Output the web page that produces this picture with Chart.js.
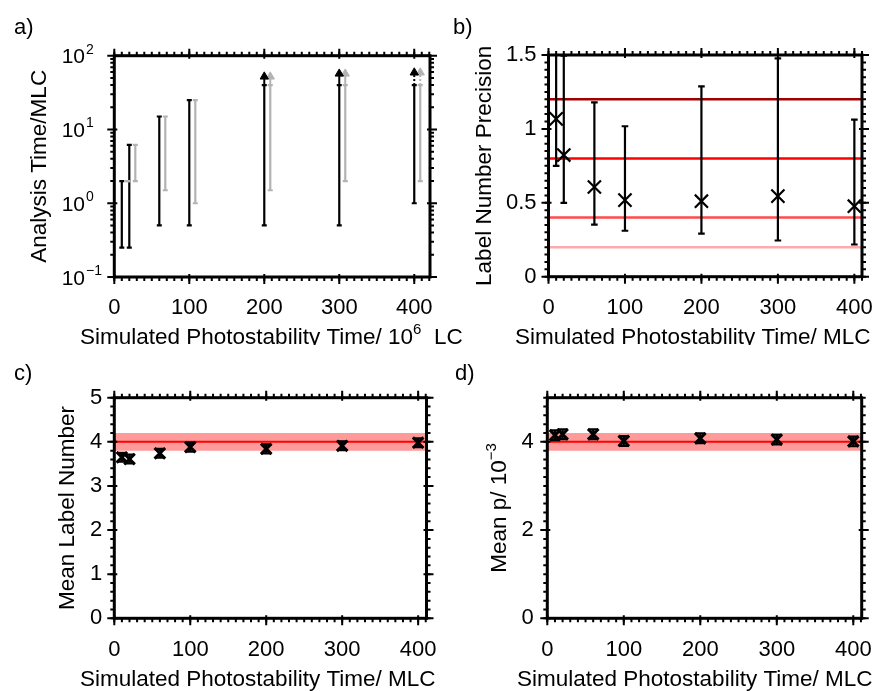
<!DOCTYPE html>
<html>
<head>
<meta charset="utf-8">
<script src="https://cdn.jsdelivr.net/npm/chart.js@4.4.1/dist/chart.umd.min.js"></script>
<style>
  html, body { margin: 0; padding: 0; background: #fff; }
  #fig { position: relative; width: 874px; height: 691px; }
  canvas { position: absolute; }
</style>
</head>
<body>
<div id="fig">
  <canvas id="chartB" width="437" height="345" style="left:437px;top:0"></canvas>
  <canvas id="chartA" width="474" height="345" style="left:0;top:0"></canvas>
  <canvas id="chartC" width="437" height="346" style="left:0;top:345px"></canvas>
  <canvas id="chartD" width="437" height="346" style="left:437px;top:345px"></canvas>
</div>
<script>
// simulated photostability times (MLC)
const simTimes = [10, 20, 60, 100, 200, 300, 400];

// a) analysis time ranges, black and grey series
const analysisBlackLo = [0.25, 0.25, 0.5, 0.5, 0.5, 0.5, 1];
const analysisBlackHi = [2, 6.2, 15, 25, 40, 40, 40];
const analysisGreyX = [18, 28, 68, 108, 208, 308, 408];
const analysisGreyLo = [2, 2, 1.5, 1, 1.5, 2, 2];
const analysisGreyHi = [2, 6.2, 15, 25, 40, 40, 40];
const arrowBlackX = [200, 300, 400];
const arrowGreyX = [208, 308, 408];
const arrowY = [52, 57, 59];
const arrowDashed = [false, false, true];

// b) label number precision
const precisionMean = [1.068, 0.823, 0.607, 0.518, 0.511, 0.545, 0.477];
const precisionLo = [0.75, 0.5, 0.352, 0.311, 0.291, 0.245, 0.218];
const precisionHi = [1.6, 1.496, 1.18, 1.018, 1.288, 1.477, 1.063];
const precisionLevels = [1.2, 0.8, 0.4, 0.2];
const precisionLevelColors = ['#a00000', '#ff0000', '#ff4a4a', '#ffaaaa'];

// c) mean label number
const labelMean = [3.65, 3.61, 3.74, 3.88, 3.84, 3.91, 3.98];
const labelErr = [0.1, 0.1, 0.1, 0.1, 0.1, 0.1, 0.1];
const labelTrue = 4;
const labelBand = [3.8, 4.2];

// d) mean p (x 10^-3)
const pMean = [4.15, 4.17, 4.17, 4.02, 4.08, 4.05, 4.01];
const pErr = [0.11, 0.11, 0.11, 0.11, 0.11, 0.11, 0.11];
const pTrue = 4;
const pBand = [3.8, 4.2];

// tick labels
const xMajorTicks = [0, 100, 200, 300, 400];
const logMajorTicks = [0.1, 1, 10, 100];
const precisionTicks = [0, 0.5, 1, 1.5];
const labelTicks = [0, 1, 2, 3, 4, 5];
const pTicks = [0, 2, 4];

const FONT = "'Liberation Sans', Arial, Helvetica, sans-serif";
const TITLE_FONT = '22.5px ' + FONT;
const SUP_FONT = '15px ' + FONT;
Chart.defaults.font.family = FONT;
Chart.defaults.color = '#000';

function range(a, b, step) {
    var out = [];
    for (var v = a; v <= b + 1e-9; v += step) {
        out.push(Math.round(v * 1000) / 1000);
    }
    return out;
}

function logMinor() {
    var out = [];
    [0.1, 1, 10].forEach(function (d) {
        for (var k = 2; k <= 9; k++) out.push(d * k);
    });
    return out;
}

function rich(ctx, parts, x, y, align) {
    var w = parts.map(function (p) {
        ctx.font = p.sup ? SUP_FONT : TITLE_FONT;
        return ctx.measureText(p.t).width;
    });
    var cx = align === 'center' ? x - w.reduce(function (s, v) { return s + v; }, 0) / 2 : x;
    parts.forEach(function (p, i) {
        ctx.font = p.sup ? SUP_FONT : TITLE_FONT;
        ctx.fillText(p.t, cx, p.sup ? y - 10 : y);
        cx += w[i];
    });
}

// frame, ticks, titles and panel letters
const decor = {
    id: 'decor',
    afterDatasetsDraw(chart, args, o) {
        var ctx = chart.ctx, a = chart.chartArea, x = chart.scales.x, y = chart.scales.y;
        ctx.save();
        ctx.strokeStyle = '#000';
        ctx.lineWidth = 2;
        ctx.beginPath();
        o.xMinor.forEach(function (v) {
            var p = x.getPixelForValue(v);
            if (p > a.right) return;
            ctx.moveTo(p, a.bottom); ctx.lineTo(p, a.bottom + 4);
            ctx.moveTo(p, a.top); ctx.lineTo(p, a.top - 4);
        });
        o.yMinor.forEach(function (v) {
            var p = y.getPixelForValue(v);
            ctx.moveTo(a.left, p); ctx.lineTo(a.left - 4, p);
            ctx.moveTo(a.right, p); ctx.lineTo(a.right + 4, p);
        });
        ctx.stroke();
        ctx.beginPath();
        o.xMajor.forEach(function (v) {
            var p = x.getPixelForValue(v);
            ctx.moveTo(p, a.bottom - 3); ctx.lineTo(p, a.bottom + 7);
            ctx.moveTo(p, a.top + 3); ctx.lineTo(p, a.top - 7);
        });
        o.yMajor.forEach(function (v) {
            var p = y.getPixelForValue(v);
            ctx.moveTo(a.left + 3, p); ctx.lineTo(a.left - 7, p);
            ctx.moveTo(a.right - 3, p); ctx.lineTo(a.right + 7, p);
        });
        ctx.stroke();
        ctx.lineWidth = 3;
        ctx.strokeRect(a.left, a.top, a.right - a.left, a.bottom - a.top);
        ctx.restore();
    },
    afterDraw(chart, args, o) {
        var ctx = chart.ctx, a = chart.chartArea, y = chart.scales.y;
        ctx.save();
        ctx.fillStyle = '#000';
        ctx.textBaseline = 'alphabetic';
        ctx.textAlign = 'left';
        ctx.font = '22px ' + FONT;
        ctx.fillText(o.letter, o.letterPos[0], o.letterPos[1]);
        rich(ctx, o.xTitle, o.xTitlePos[0], o.xTitlePos[1], 'left');
        ctx.save();
        ctx.translate(o.yTitleX, (a.top + a.bottom) / 2);
        ctx.rotate(-Math.PI / 2);
        rich(ctx, o.yTitle, 0, 0, 'center');
        ctx.restore();
        if (o.logLabels) {
            o.yMajor.forEach(function (v) {
                var p = y.getPixelForValue(v);
                var e = Math.round(Math.log10(v));
                ctx.font = '21px ' + FONT;
                ctx.textAlign = 'right';
                ctx.fillText('10', 85, p + 7.5);
                ctx.font = '14px ' + FONT;
                ctx.textAlign = 'left';
                ctx.fillText(e < 0 ? '\u2212' + (-e) : String(e), 86, p - 2);
            });
        }
        ctx.restore();
    }
};

function errorBars(xs, lo, hi, color, capR, width) {
    return xs.map(function (xv, i) {
        return {
            data: [{x: xv, y: lo[i]}, {x: xv, y: hi[i]}],
            showLine: true,
            borderColor: color,
            borderWidth: width,
            pointStyle: 'line',
            pointRadius: capR,
            pointBorderColor: color,
            pointBorderWidth: width,
            order: 3
        };
    });
}

function markers(xs, ys, radius, width) {
    return {
        data: xs.map(function (xv, i) { return {x: xv, y: ys[i]}; }),
        showLine: false,
        pointStyle: 'crossRot',
        pointRadius: radius,
        pointBorderColor: '#000',
        pointBorderWidth: width,
        order: 0
    };
}

function hline(xMax, value, color, width, order) {
    return {
        data: [{x: 0, y: value}, {x: xMax, y: value}],
        showLine: true,
        borderColor: color,
        borderWidth: width,
        pointRadius: 0,
        order: order
    };
}

function band(xMax, lo, hi) {
    return [
        {
            data: [{x: 0, y: hi}, {x: xMax, y: hi}],
            showLine: true, borderWidth: 0, pointRadius: 0,
            backgroundColor: '#ff9a9a', fill: '+1', order: 20
        },
        {
            data: [{x: 0, y: lo}, {x: xMax, y: lo}],
            showLine: true, borderWidth: 0, pointRadius: 0, order: 21
        }
    ];
}

function makePanel(id, p) {
    var yAxis = {
        type: p.logY ? 'logarithmic' : 'linear',
        min: p.yMin,
        max: p.yMax,
        grid: {display: false, drawTicks: false},
        border: {display: false},
        ticks: {
            display: !p.logY,
            padding: p.yPad,
            font: {size: 22},
            color: '#000',
            autoSkip: false,
            callback: function (v) { return String(v); }
        },
        afterBuildTicks: function (s) {
            s.ticks = p.yMajor.map(function (v) { return {value: v}; });
        },
        afterFit: function (s) {
            s.width = p.yWidth;
            s.paddingTop = s.paddingBottom = s.paddingLeft = s.paddingRight = 0;
        }
    };
    var xAxis = {
        type: 'linear',
        min: 0,
        max: p.xMax,
        grid: {display: false, drawTicks: false},
        border: {display: false},
        ticks: {padding: 18, font: {size: 22}, color: '#000', autoSkip: false, maxRotation: 0},
        afterBuildTicks: function (s) {
            s.ticks = xMajorTicks.map(function (v) { return {value: v}; });
        },
        afterFit: function (s) {
            s.height = p.xHeight;
            s.paddingTop = s.paddingBottom = s.paddingLeft = s.paddingRight = 0;
        }
    };
    return new Chart(document.getElementById(id), {
        type: 'scatter',
        data: {datasets: p.datasets},
        options: {
            responsive: false,
            animation: false,
            events: [],
            layout: {padding: {top: p.top, right: p.right, left: 0, bottom: 0}},
            scales: {x: xAxis, y: yAxis},
            plugins: {
                legend: {display: false},
                tooltip: {enabled: false},
                decor: {
                    letter: p.letter, letterPos: p.letterPos,
                    xTitle: p.xTitle, xTitlePos: p.xTitlePos,
                    yTitle: p.yTitle, yTitleX: p.yTitleX,
                    xMajor: xMajorTicks, xMinor: range(0, 420, 10),
                    yMajor: p.yMajor, yMinor: p.yMinor,
                    logLabels: !!p.logY
                }
            }
        },
        plugins: [decor]
    });
}

const GREY = '#b3b3b3';
const mlcTitle = [{t: 'Simulated Photostability Time/ MLC'}];

// a)
var dsA = []
    .concat(errorBars(analysisGreyX, analysisGreyLo, analysisGreyHi, GREY, 2.5, 2.2))
    .concat(errorBars(simTimes, analysisBlackLo, analysisBlackHi, '#000', 2.5, 2.2));
arrowBlackX.forEach(function (xv, i) {
    [[xv, '#000'], [arrowGreyX[i], GREY]].forEach(function (c) {
        dsA.push({
            data: [{x: c[0], y: 40}, {x: c[0], y: arrowY[i]}],
            showLine: true, borderColor: c[1], borderWidth: 2,
            borderDash: arrowDashed[i] ? [2, 2] : [], pointRadius: 0, order: 4
        });
    });
});
dsA.push({
    data: arrowGreyX.map(function (xv, i) { return {x: xv, y: arrowY[i]}; }),
    pointStyle: 'triangle', pointRadius: 4.8, pointBackgroundColor: GREY,
    pointBorderColor: GREY, pointBorderWidth: 1, order: 2
});
dsA.push({
    data: arrowBlackX.map(function (xv, i) { return {x: xv, y: arrowY[i]}; }),
    pointStyle: 'triangle', pointRadius: 4.8, pointBackgroundColor: '#000',
    pointBorderColor: '#000', pointBorderWidth: 1, order: 1
});

makePanel('chartA', {
    datasets: dsA, logY: true, yMin: 0.1, yMax: 100, xMax: 421,
    yMajor: logMajorTicks, yMinor: logMinor(), yPad: 12,
    top: 55.7, right: 44, yWidth: 114.3, xHeight: 68,
    letter: 'a)', letterPos: [14, 33.5],
    xTitle: [{t: 'Simulated Photostability Time/ 10'}, {t: '6', sup: true}, {t: '  LC'}],
    xTitlePos: [80, 344],
    yTitle: [{t: 'Analysis Time/MLC'}], yTitleX: 46
});

// b)
var dsB = [markers(simTimes, precisionMean, 9.3, 2.2)]
    .concat(errorBars(simTimes, precisionLo, precisionHi, '#000', 3.3, 2.2))
    .concat(precisionLevels.map(function (v, i) {
        return hline(410, v, precisionLevelColors[i], 2.5, 10);
    }));

makePanel('chartB', {
    datasets: dsB, yMin: 0, yMax: 1.5, xMax: 410,
    yMajor: precisionTicks, yMinor: range(0, 1.5, 0.05), yPad: 12,
    top: 55, right: 12, yWidth: 111.5, xHeight: 68.3,
    letter: 'b)', letterPos: [16, 33.5],
    xTitle: mlcTitle, xTitlePos: [78, 344],
    yTitle: [{t: 'Label Number Precision'}], yTitleX: 54
});

// c)
var dsC = [markers(simTimes, labelMean, 7.5, 3)]
    .concat(errorBars(simTimes,
        labelMean.map(function (v, i) { return v - labelErr[i]; }),
        labelMean.map(function (v, i) { return v + labelErr[i]; }),
        '#000', 5, 2.2))
    .concat([hline(411, labelTrue, '#ff0000', 2, 10)])
    .concat(band(411, labelBand[0], labelBand[1]));

makePanel('chartC', {
    datasets: dsC, yMin: 0, yMax: 5, xMax: 411,
    yMajor: labelTicks, yMinor: range(0, 5, 0.2), yPad: 12,
    top: 52.7, right: 9.3, yWidth: 114.3, xHeight: 72.7,
    letter: 'c)', letterPos: [14, 35],
    xTitle: mlcTitle, xTitlePos: [80, 341],
    yTitle: [{t: 'Mean Label Number'}], yTitleX: 74
});

// d)
var dsD = [markers(simTimes, pMean, 7.5, 3)]
    .concat(errorBars(simTimes,
        pMean.map(function (v, i) { return v - pErr[i]; }),
        pMean.map(function (v, i) { return v + pErr[i]; }),
        '#000', 5, 2.2))
    .concat([hline(411, pTrue, '#ff0000', 2, 10)])
    .concat(band(411, pBand[0], pBand[1]));

makePanel('chartD', {
    datasets: dsD, yMin: 0, yMax: 5, xMax: 411,
    yMajor: pTicks, yMinor: range(0, 5, 0.2), yPad: 13.5,
    top: 52.7, right: 12.3, yWidth: 110.3, xHeight: 72.7,
    letter: 'd)', letterPos: [18, 35],
    xTitle: mlcTitle, xTitlePos: [80, 341],
    yTitle: [{t: 'Mean p/ 10'}, {t: '\u22123', sup: true}], yTitleX: 69
});
</script>
</body>
</html>
